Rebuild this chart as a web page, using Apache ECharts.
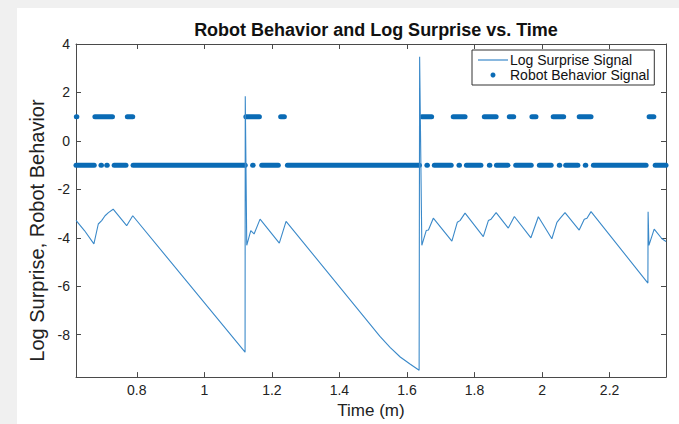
<!DOCTYPE html>
<html>
<head>
<meta charset="utf-8">
<script src="https://cdn.jsdelivr.net/npm/echarts@6/dist/echarts.min.js"></script>
<style>
html,body{margin:0;padding:0;background:#fff;overflow:hidden;}
#c{width:679px;height:424px;}
</style>
</head>
<body>
<div id="c"></div>
<script>
// ---- Data ----
const timeMinutes = [0.620, 0.645, 0.673, 0.686, 0.696, 0.706, 0.716, 0.730, 0.770, 0.788,
  1.1206, 1.1212, 1.1256, 1.1375, 1.1473, 1.165, 1.222, 1.242, 1.520, 1.550, 1.580, 1.610, 1.636,
  1.6375, 1.644, 1.657, 1.6636, 1.678, 1.733, 1.749, 1.757, 1.772, 1.826, 1.841, 1.849, 1.864,
  1.900, 1.918, 1.967, 1.989, 2.029, 2.044, 2.054, 2.068, 2.110, 2.125, 2.133, 2.145,
  2.3134, 2.3140, 2.3164, 2.332, 2.355, 2.367];
const logSurprise = [-3.28, -3.70, -4.25, -3.43, -3.29, -3.09, -2.96, -2.82, -3.50, -3.09,
  -8.72, 1.84, -4.31, -3.70, -3.84, -3.23, -4.22, -3.32, -8.07, -8.52, -8.92, -9.22, -9.47,
  3.47, -4.31, -3.70, -3.68, -3.19, -4.14, -3.36, -3.29, -2.98, -3.95, -3.29, -3.23, -2.96,
  -3.60, -3.12, -4.00, -3.13, -4.04, -3.36, -3.19, -2.96, -3.68, -3.23, -3.19, -2.92,
  -5.87, -2.92, -4.31, -3.64, -4.04, -4.15];

// Robot behaviour: runs of consecutive samples [startTime, endTime] at each level
const behaviorHighLevel = 1;
const behaviorLowLevel = -1;
const behaviorHighRuns = [[0.621,0.621],[0.676,0.728],[0.772,0.788],[1.123,1.163],[1.226,1.237],
  [1.644,1.673],[1.737,1.772],[1.829,1.864],[1.903,1.916],[1.970,1.982],[2.033,2.064],
  [2.110,2.145],[2.317,2.331]];
const behaviorLowRuns = [[0.620,0.674],[0.694,0.694],[0.711,0.711],[0.733,0.768],[0.789,1.121],
  [1.143,1.143],[1.170,1.219],[1.246,1.637],[1.659,1.659],[1.681,1.731],[1.754,1.754],
  [1.776,1.819],[1.844,1.844],[1.865,1.899],[1.922,1.968],[1.992,2.027],[2.051,2.051],
  [2.070,2.106],[2.128,2.128],[2.152,2.308],[2.335,2.367]];

const xMin = 0.62, xMax = 2.367;
const yMin = -9.75, yMax = 4;

// ---- Build options ----
const lineData = timeMinutes.map((t, i) => [t, logSurprise[i]]);
const behaviorData = behaviorHighRuns.map(r => [r[0], r[1], behaviorHighLevel])
  .concat(behaviorLowRuns.map(r => [r[0], r[1], behaviorLowLevel]));

const FONT = 'Liberation Sans, Arial, Helvetica, sans-serif';
const AX = '#4a4a4a';
const LINE_C = '#3a89c9';
const DOT_C = '#0a6bb5';

const chart = echarts.init(document.getElementById('c'), null, {renderer: 'svg'});

function xAx(pos, labels) {
  return {
    type: 'value', position: pos, min: xMin, max: xMax, splitNumber: 9,
    axisLine: {show: true, onZero: false, lineStyle: {color: AX, width: 1}},
    axisTick: {show: true, inside: true, length: 5, lineStyle: {color: AX}},
    axisLabel: {show: labels, showMinLabel: false, showMaxLabel: false, color: '#222',
      fontSize: 14, fontFamily: FONT, margin: 6},
    splitLine: {show: false},
    name: labels ? 'Time (m)' : '', nameLocation: 'middle', nameGap: 19,
    nameTextStyle: {color: '#222', fontSize: 17, fontFamily: FONT}
  };
}
function yAx(pos, labels) {
  return {
    type: 'value', position: pos, min: yMin, max: yMax, splitNumber: 7,
    axisLine: {show: true, onZero: false, lineStyle: {color: AX, width: 1}},
    axisTick: {show: true, inside: true, length: 5, lineStyle: {color: AX}},
    axisLabel: {show: labels, showMinLabel: false, color: '#222',
      fontSize: 14, fontFamily: FONT, margin: 6},
    splitLine: {show: false},
    name: labels ? 'Log Surprise, Robot Behavior' : '', nameLocation: 'middle', nameGap: 23,
    nameTextStyle: {color: '#222', fontSize: 20, fontFamily: FONT, padding: [0, 40, 0, 0]}
  };
}

const option = {
  animation: false,
  backgroundColor: '#ffffff',
  graphic: {elements: [
    {type: 'rect', z: -100, silent: true, shape: {x: 0, y: 0, width: 17, height: 424}, style: {fill: '#f0f0f0'}},
    {type: 'rect', z: -100, silent: true, shape: {x: 0, y: 0, width: 679, height: 8}, style: {fill: '#f0f0f0'}}
  ]},
  title: {
    text: 'Robot Behavior and Log Surprise vs. Time',
    left: 371, top: 16, textAlign: 'center',
    textStyle: {fontSize: 18, fontWeight: 'bold', color: '#111', fontFamily: FONT}
  },
  legend: {
    left: 472, top: 50, orient: 'vertical',
    itemWidth: 30, itemHeight: 5, itemGap: 1,
    padding: [3, 5, 3, 6],
    backgroundColor: '#fff', borderColor: '#333', borderWidth: 1,
    textStyle: {fontSize: 14, lineHeight: 13, color: '#111', fontFamily: FONT, padding: [0, 0, 0, -3]},
    data: [
      {name: 'Log Surprise Signal', icon: 'path://M0,0H30V1.2H0Z', itemStyle: {color: LINE_C}},
      {name: 'Robot Behavior Signal', icon: 'circle', itemStyle: {color: DOT_C}}
    ]
  },
  grid: {left: 76, right: 13, top: 44, bottom: 41, containLabel: false},
  xAxis: [xAx('bottom', true), xAx('top', false)],
  yAxis: [yAx('left', true), yAx('right', false)],
  series: [
    {
      name: 'Log Surprise Signal', type: 'line', data: lineData,
      xAxisIndex: 0, yAxisIndex: 0,
      showSymbol: false, symbol: 'none',
      lineStyle: {color: LINE_C, width: 1.1},
      itemStyle: {color: LINE_C}, z: 3
    },
    {
      name: 'Robot Behavior Signal', type: 'custom', data: behaviorData,
      xAxisIndex: 0, yAxisIndex: 0,
      encode: {x: [0, 1], y: 2},
      itemStyle: {color: DOT_C}, z: 2,
      renderItem: function (params, api) {
        const a = api.coord([api.value(0), api.value(2)]);
        const b = api.coord([api.value(1), api.value(2)]);
        let x2 = b[0];
        if (Math.abs(x2 - a[0]) < 0.5) x2 = a[0] + 0.5;
        return {
          type: 'line',
          shape: {x1: a[0], y1: a[1], x2: x2, y2: b[1]},
          style: {stroke: DOT_C, lineWidth: 5, lineCap: 'round', fill: null}
        };
      }
    }
  ]
};
chart.setOption(option);
</script>
</body>
</html>
